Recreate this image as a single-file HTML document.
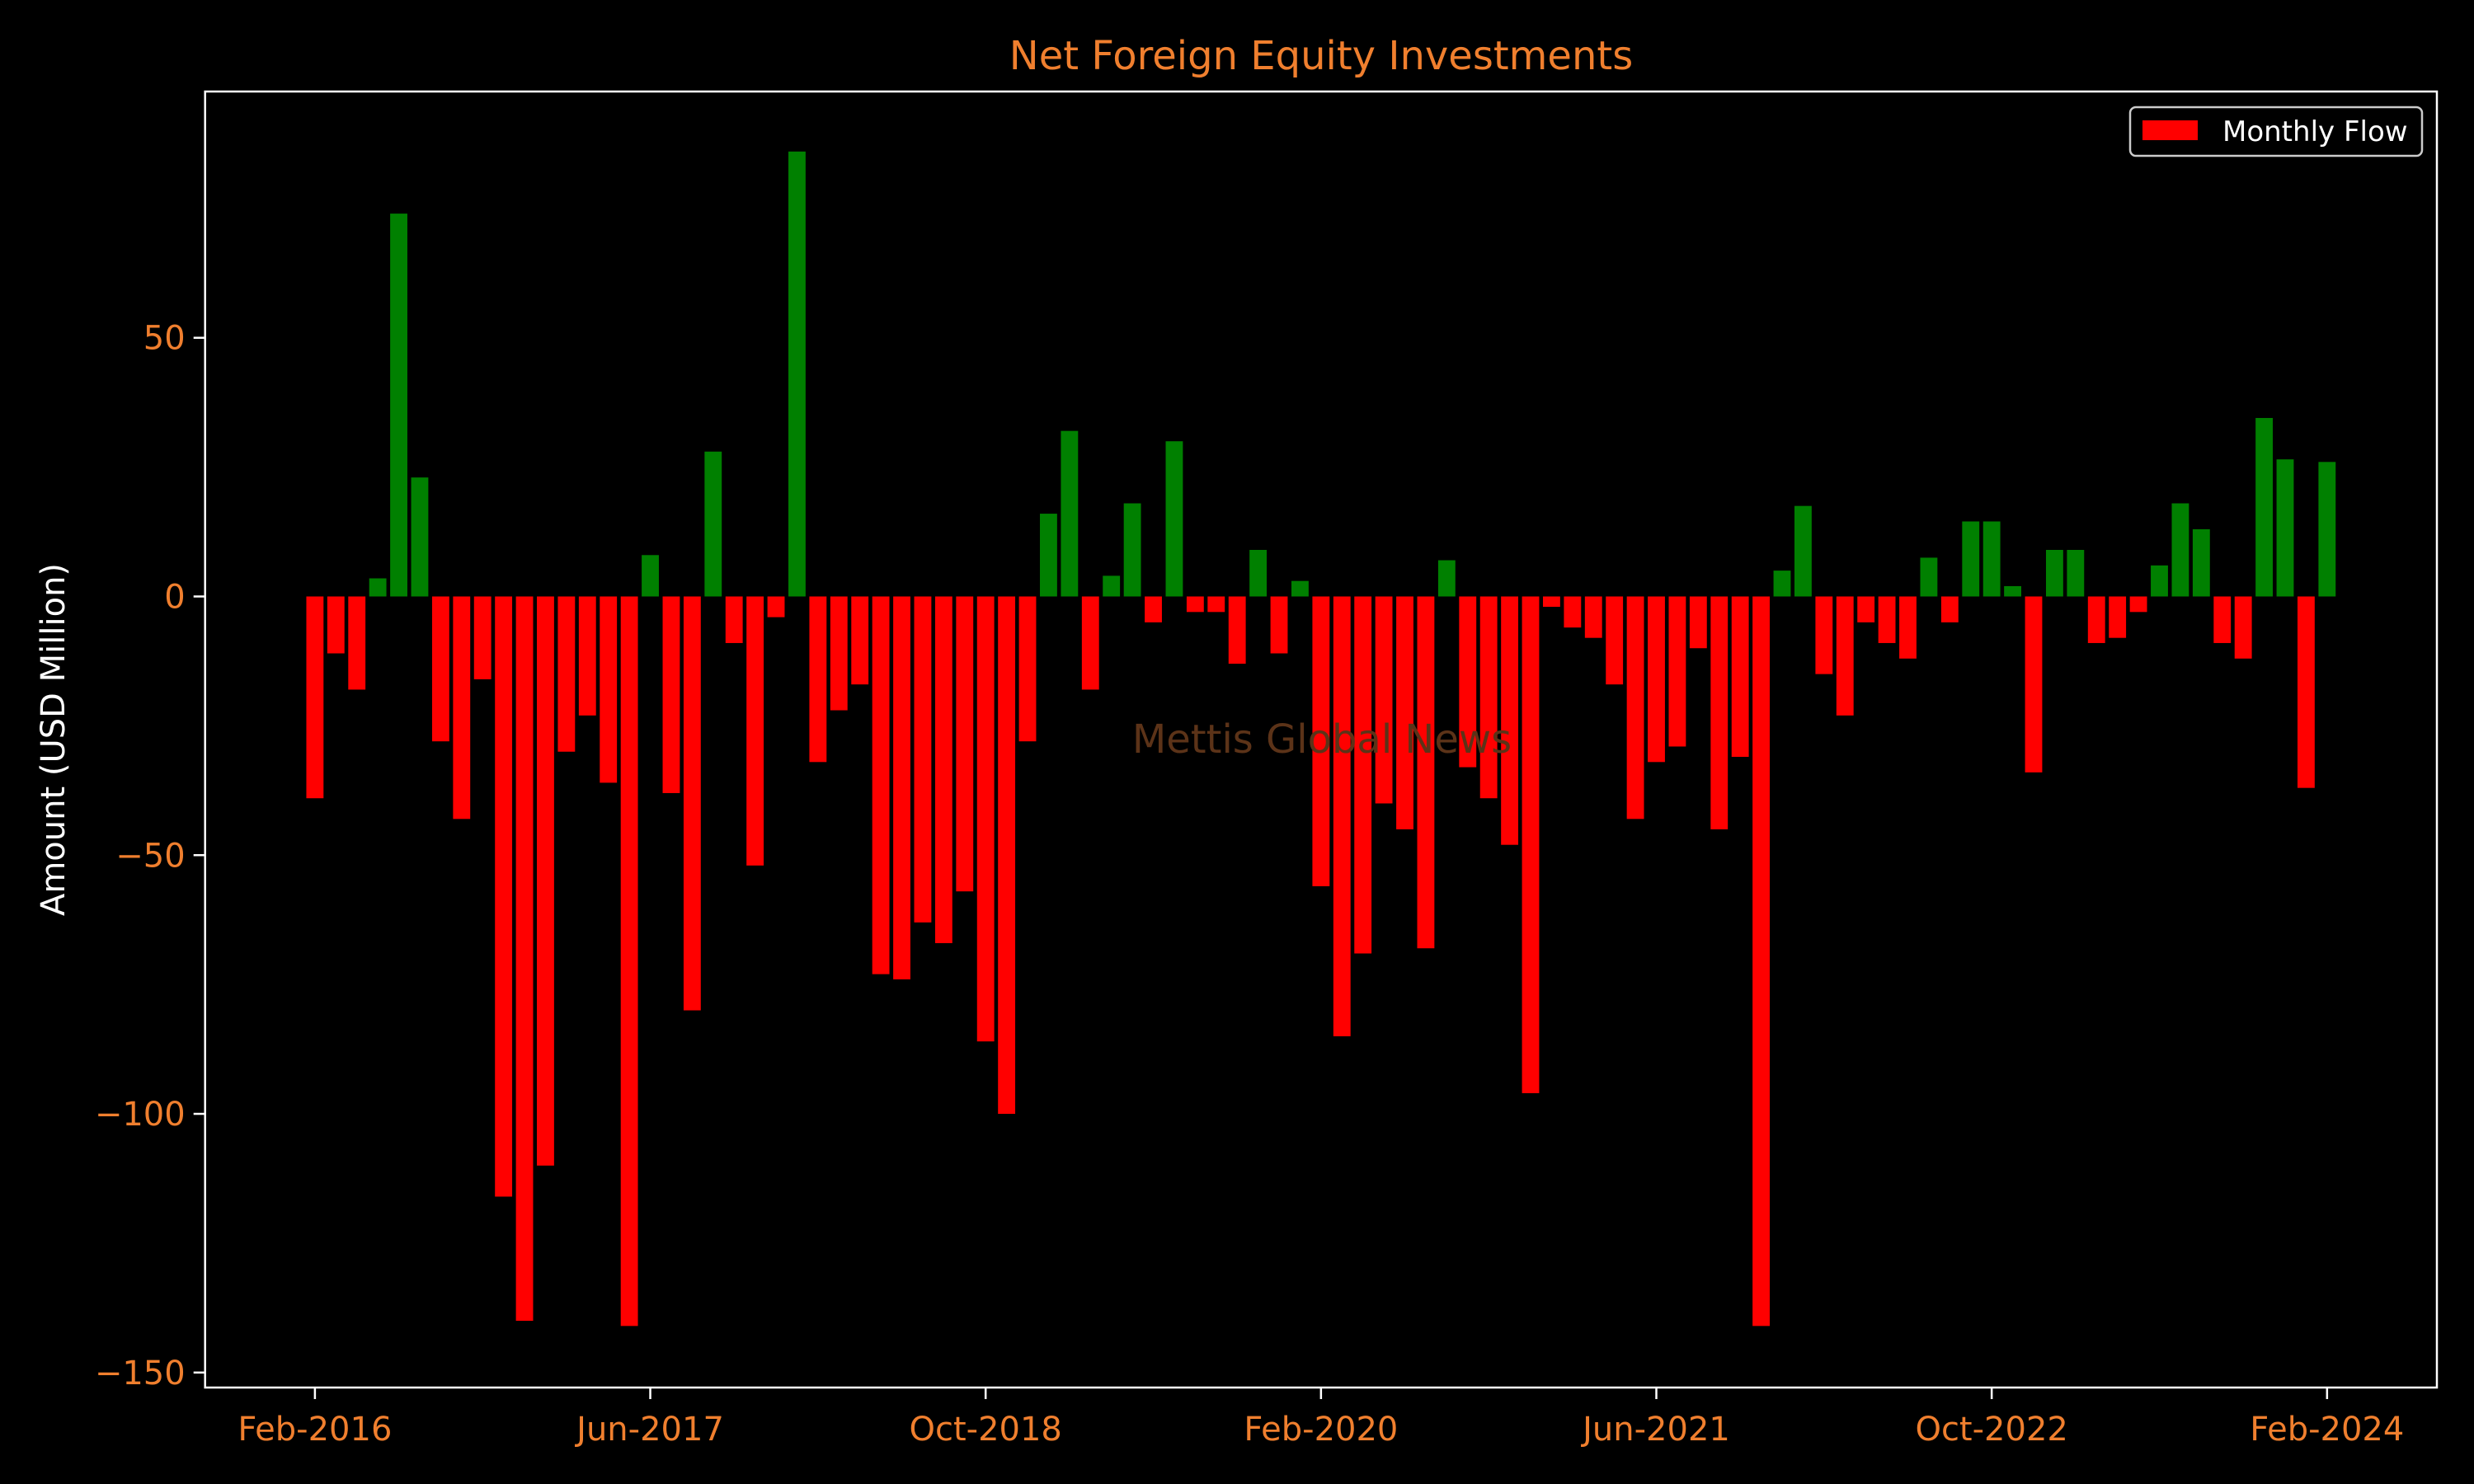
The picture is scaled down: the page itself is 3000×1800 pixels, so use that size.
<!DOCTYPE html>
<html><head><meta charset="utf-8"><style>
html,body{margin:0;padding:0;background:#000;}
svg{display:block;font-family:"DejaVu Sans","Liberation Sans",sans-serif;}
</style></head><body>
<svg id="chart" width="3000" height="1800" viewBox="0 0 3000 1800" xmlns="http://www.w3.org/2000/svg">
<rect width="3000" height="1800" fill="#000"/>
<text x="1602" y="84" text-anchor="middle" font-size="48" fill="#f07f2e">Net Foreign Equity Investments</text>
<text transform="translate(78,897) rotate(-90)" text-anchor="middle" font-size="40" fill="#fff">Amount (USD Million)</text>
<g id="bars"></g>
<g id="yticks"></g>
<g id="xticks"></g>
<text x="1603" y="913" text-anchor="middle" font-size="48" fill="#5c3318">Mettis Global News</text>
<rect x="248.7" y="111" width="2706.3" height="1572" fill="none" stroke="#fff" stroke-width="2.5"/>
<g>
<rect x="2583" y="130" width="354" height="59" rx="7" fill="#000" stroke="#ccc" stroke-width="2.5"/>
<rect x="2598" y="146" width="67" height="24" fill="#ff0000"/>
<text x="2695" y="171" font-size="34" fill="#fff">Monthly Flow</text>
</g>
</svg>
<script>
const values = [-39,-11,-18,3.5,74,23,-28,-43,-16,-116,-140,-110,-30,-23,-36,-141,8,-38,-80,28,-9,-52,-4,86,-32,-22,-17,-73,-74,-63,-67,-57,-86,-100,-28,16,32,-18,4,18,-5,30,-3,-3,-13,9,-11,3,-56,-85,-69,-40,-45,-68,7,-33,-39,-48,-96,-2,-6,-8,-17,-43,-32,-29,-10,-45,-31,-141,5,17.5,-15,-23,-5,-9,-12,7.5,-5,14.5,14.5,2,-34,9,9,-9,-8,-3,6,18,13,-9,-12,34.5,26.5,-37,26];
const xTickIdx = [0,16,32,48,64,80,96];
const xTickLabels = ["Feb-2016","Jun-2017","Oct-2018","Feb-2020","Jun-2021","Oct-2022","Feb-2024"];
const yTicks = [50,0,-50,-100,-150];
const yTickLabels = ["50","0","\u221250","\u2212100","\u2212150"];
const L=248.7,R=2955,T=111,B=1683;
const xmin=-5.24,xmax=values.length-1+5.24,ymin=-152.9,ymax=97.6;
const sx=v=>L+(v-xmin)/(xmax-xmin)*(R-L);
const sy=v=>T+(ymax-v)/(ymax-ymin)*(B-T);
const NS="http://www.w3.org/2000/svg";
const bw=(sx(1)-sx(0))*0.82;
const bars=document.getElementById('bars');
values.forEach((v,i)=>{
  const r=document.createElementNS(NS,'rect');
  const y0=sy(Math.max(v,0)),y1=sy(Math.min(v,0));
  r.setAttribute('x',sx(i)-bw/2);r.setAttribute('y',y0);
  r.setAttribute('width',bw);r.setAttribute('height',y1-y0);
  r.setAttribute('fill',v>=0?'#008000':'#ff0000');
  
  
  bars.appendChild(r);
});
const yg=document.getElementById('yticks');
yTicks.forEach((t,i)=>{
  const y=sy(t);
  const l=document.createElementNS(NS,'line');
  l.setAttribute('x1',L-14);l.setAttribute('x2',L);l.setAttribute('y1',y);l.setAttribute('y2',y);
  l.setAttribute('stroke','#fff');l.setAttribute('stroke-width','2.5');
  
  
  yg.appendChild(l);
  const tx=document.createElementNS(NS,'text');
  tx.setAttribute('x',L-24);tx.setAttribute('y',y+14);
  tx.setAttribute('text-anchor','end');tx.setAttribute('font-size','40');tx.setAttribute('fill','#f07f2e');
  tx.textContent=yTickLabels[i];
  
  
  yg.appendChild(tx);
});
const xg=document.getElementById('xticks');
xTickIdx.forEach((t,i)=>{
  const x=sx(t);
  const l=document.createElementNS(NS,'line');
  l.setAttribute('x1',x);l.setAttribute('x2',x);l.setAttribute('y1',B);l.setAttribute('y2',B+14);
  l.setAttribute('stroke','#fff');l.setAttribute('stroke-width','2.5');
  
  
  xg.appendChild(l);
  const tx=document.createElementNS(NS,'text');
  tx.setAttribute('x',x);tx.setAttribute('y',B+64);
  tx.setAttribute('text-anchor','middle');tx.setAttribute('font-size','40');tx.setAttribute('fill','#f07f2e');
  tx.textContent=xTickLabels[i];
  
  
  xg.appendChild(tx);
});
</script>
</body></html>
